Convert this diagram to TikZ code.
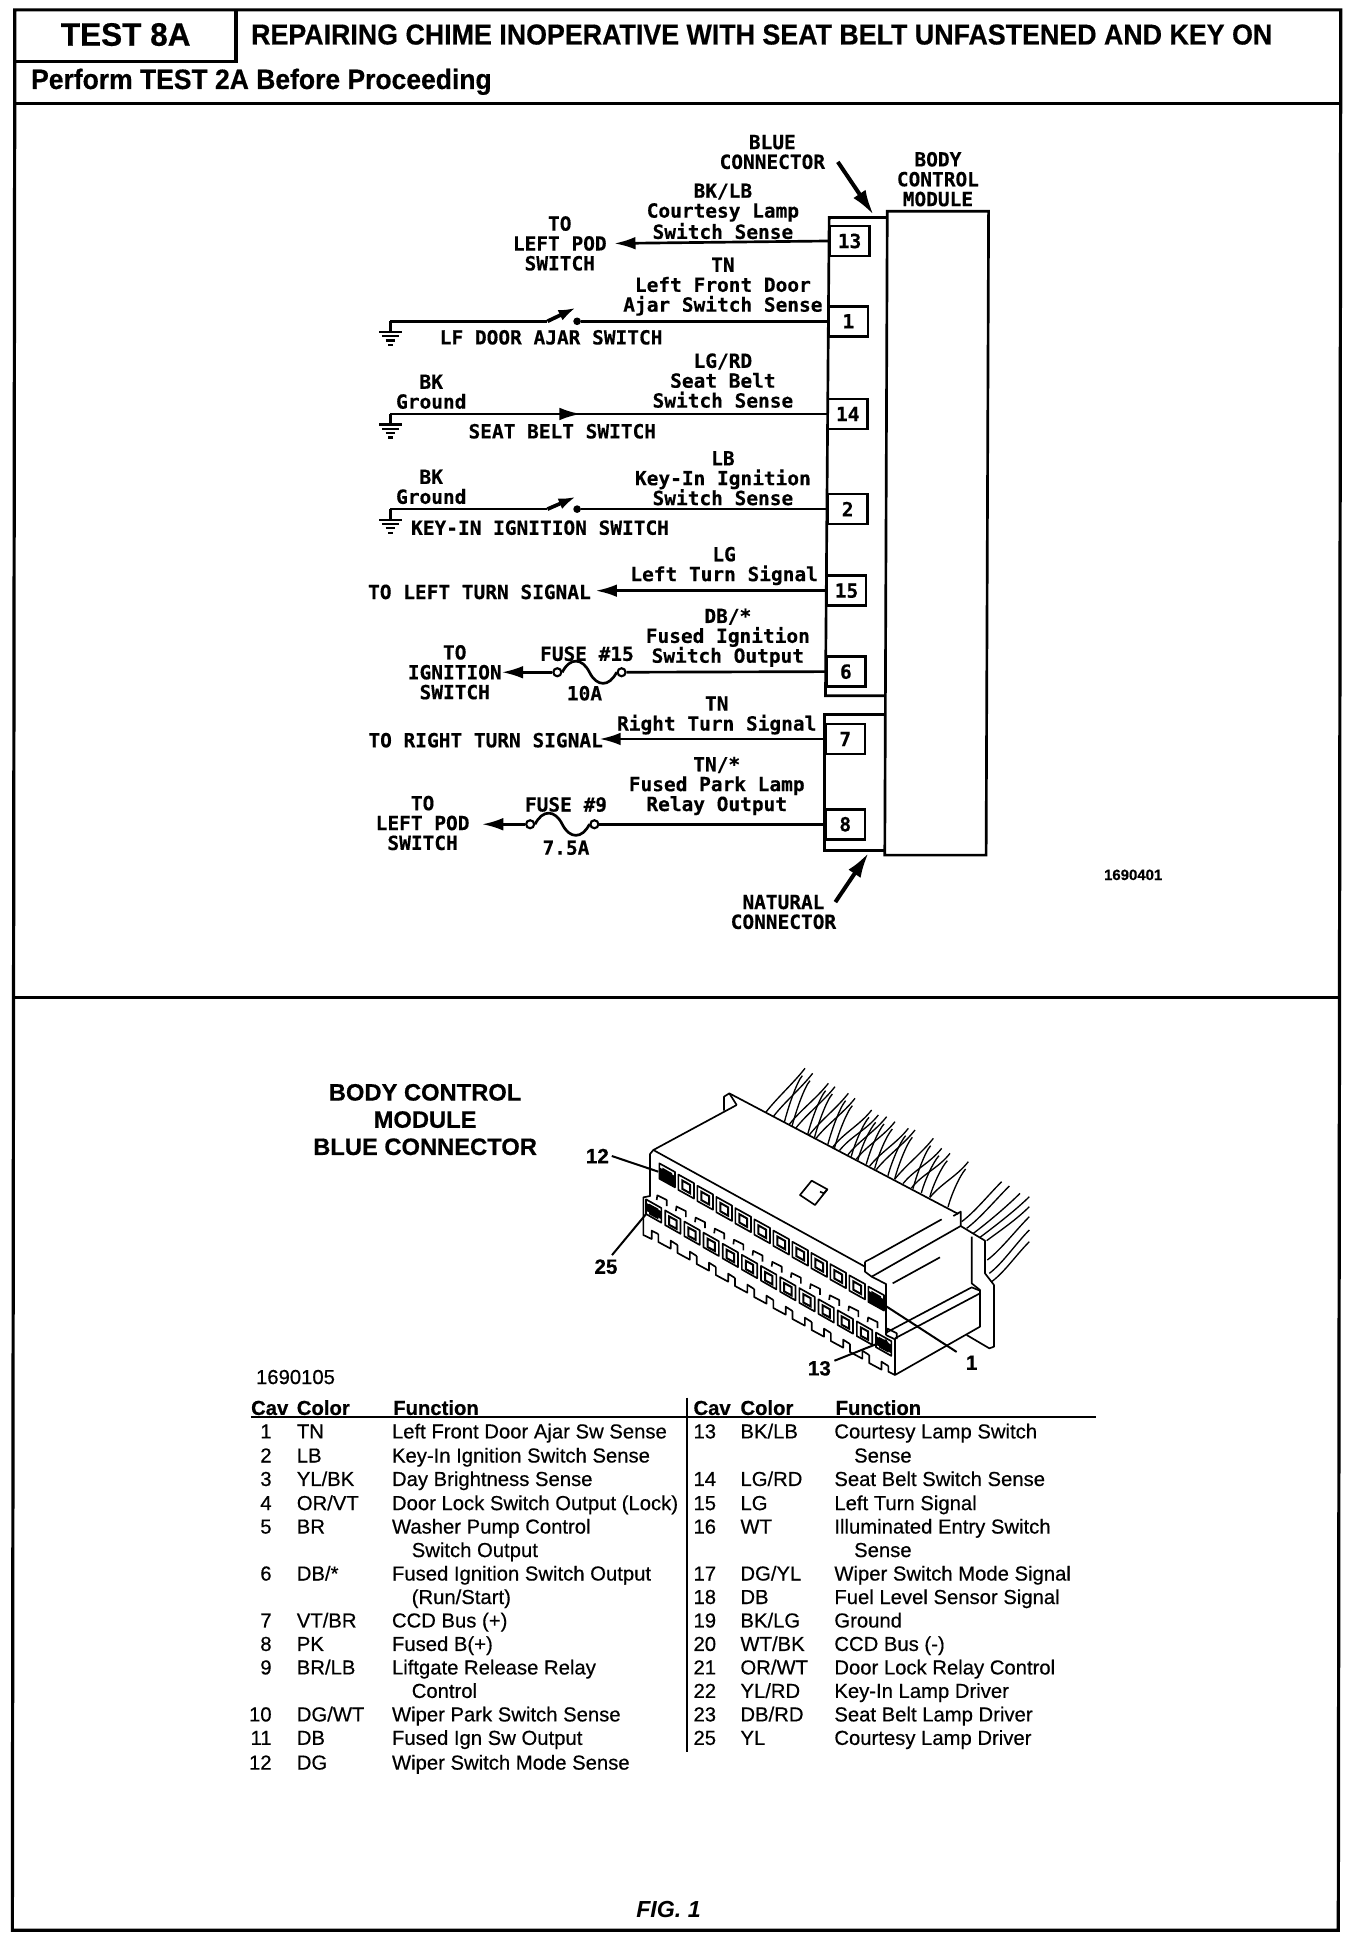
\documentclass[tikz,border=0pt]{standalone}
\usepackage{fontspec}
\usetikzlibrary{arrows.meta}
\setmainfont{Liberation Sans}
\newfontfamily\cadf[UprightFont=* Bold,FakeBold=0.35]{DejaVu Sans Mono}
\newfontfamily\tblf[FakeBold=0.45]{Liberation Sans}
\newfontfamily\hdf[UprightFont=* Bold,FakeBold=0.5]{Liberation Sans}
\tikzset{
  wire/.style={line width=2pt,black},
  frameline/.style={line width=2.4pt,black},
  tipped/.style={wire,-{Latex[length=16pt,width=9.5pt]}},
  bigarrow/.style={line width=3pt,black,-{Latex[length=19pt,width=11pt]}},
  swarrow/.style={line width=2.8pt,black,-{Latex[length=13pt,width=8.5pt]}},
  cad/.style={font=\cadf\fontsize{14.6}{14.9}\selectfont,inner sep=0pt,align=center,text=black},
  pinbox/.style={draw,line width=2pt,minimum width=29.5pt,minimum height=22.5pt,inner sep=0pt,font=\cadf\fontsize{14.6}{15}\selectfont},
  fusedot/.style={circle,draw,line width=1.6pt,fill=white,minimum size=6pt,inner sep=0pt},
  tb/.style={font=\tblf\fontsize{15.2}{16}\selectfont,inner sep=0pt,anchor=base west},
  tbr/.style={font=\tblf\fontsize{15.2}{16}\selectfont,inner sep=0pt,anchor=base east},
  th/.style={font=\hdf\fontsize{15.2}{16}\selectfont,inner sep=0pt,anchor=base west},
  head/.style={inner sep=0pt,anchor=base west},
  gnd/.pic={
    \draw[wire] (0,0)--(0,8);
    \draw[line width=1.6pt] (-9,8.5)--(9,8.5);
    \draw[line width=1.6pt] (-6.5,12)--(6.5,12);
    \draw[line width=1.6pt] (-4,15.5)--(4,15.5);
    \draw[line width=1.6pt] (-2,19)--(2,19);
  },
  fusecurve/.pic={
    \draw[line width=2pt] (-22,0) .. controls (-16,-12) and (-6,-12) .. (0,0) .. controls (6,12) and (16,12) .. (22,0);
  },
  cn/.style={line width=1.25pt,black,line join=round},
  cnt/.style={line width=1pt,black},
  cnlab/.style={font=\hdf\fontsize{15.5}{16}\selectfont,inner sep=0pt}
}
\newcommand\lrow[4]{%
  \node[tbr] (lc#2) at (220,#1+6) {#2};
  \node[tb] (lk#2) at (240,#1+6) {#3};
  \node[tb] (lf#2) at (317,#1+6) {#4};}
\newcommand\rrow[4]{%
  \node[tb] (rc#2) at (561,#1+6) {#2};
  \node[tb] (rk#2) at (599,#1+6) {#3};
  \node[tb] (rf#2) at (675,#1+6) {#4};}
\begin{document}
\begin{tikzpicture}[x=0.9268pt,y=-0.9268pt]
\fill[white] (0,0) rectangle (1100.56,1568.3);
% frame
\coordinate (tl) at (12,8); \coordinate (tr) at (1085,8);
\coordinate (bl) at (10,1562); \coordinate (br) at (1083,1562);
\draw[frameline] (tl)--(tr)--(br)--(bl)--cycle;
\coordinate (h1a) at (191,8); \coordinate (h1b) at (191,50); \coordinate (h1c) at (12,50);
\draw[frameline] (h1a)--(h1b)--(h1c);
\coordinate (h2a) at (12,84); \coordinate (h2b) at (1085,84);
\draw[frameline] (h2a)--(h2b);
\coordinate (h3a) at (11,807); \coordinate (h3b) at (1084,807);
\draw[frameline] (h3a)--(h3b);
\node[head,font=\hdf\fontsize{23.2}{24}\selectfont] (t8) at (49,37) {\scalebox{1.02}[1.05]{TEST 8A}};
\node[head,font=\hdf\fontsize{20.6}{24}\selectfont] (ttl) at (203,36) {\scalebox{0.976}[1.05]{REPAIRING CHIME INOPERATIVE WITH SEAT BELT UNFASTENED AND KEY ON}};
\node[head,font=\hdf\fontsize{20}{24}\selectfont] (pf) at (25,72) {\scalebox{0.993}[1.05]{Perform TEST 2A Before Proceeding}};
% module
\coordinate (m1) at (718,171); \coordinate (m2) at (800,171); \coordinate (m3) at (798,692); \coordinate (m4) at (716,692);
\draw[wire] (m1)--(m2)--(m3)--(m4)--cycle;
\coordinate (b1) at (718,176); \coordinate (b2) at (671,176); \coordinate (b3) at (668,563); \coordinate (b4) at (716,563);
\draw[wire] (b1)--(b2)--(b3)--(b4);
\coordinate (n1) at (716,578); \coordinate (n2) at (667,578); \coordinate (n3) at (667,688); \coordinate (n4) at (716,688);
\draw[wire] (n1)--(n2)--(n3)--(n4);
\node[cad] (bcm) at (759,145) {BODY\\CONTROL\\MODULE};
\node[cad] (blue) at (625,123) {BLUE\\CONNECTOR};
\coordinate (ba) at (678,131); \coordinate (bb) at (707,174);
\draw[bigarrow] (ba)--(bb);
\node[cad] (nat) at (634,738) {NATURAL\\CONNECTOR};
\coordinate (na) at (676,730); \coordinate (nb) at (703,690);
\draw[bigarrow] (na)--(nb);
\node[font=\hdf\fontsize{11.2}{12}\selectfont,inner sep=0pt] (code1) at (917,708) {1690401};
% pins
\node[pinbox] (p13) at (687.5,195) {13};
\node[pinbox] (p1) at (686.5,260) {1};
\node[pinbox] (p14) at (686,335) {14};
\node[pinbox] (p2) at (686,412) {2};
\node[pinbox] (p15) at (685,478) {15};
\node[pinbox] (p6) at (684.5,543.5) {6};
\node[pinbox] (p7) at (684,598) {7};
\node[pinbox] (p8) at (684,667) {8};
% pin 13
\node[cad] (l13) at (585,171) {BK/LB\\Courtesy Lamp\\Switch Sense};
\node[cad] (d13) at (453,197) {TO\\LEFT POD\\SWITCH};
\coordinate (t13) at (497,197);
\draw[tipped] (p13.west)--(t13);
% pin 1
\node[cad] (l1) at (585,232) {TN\\Left Front Door\\Ajar Switch Sense};
\node[cad] (s1) at (446,273) {LF DOOR AJAR SWITCH};
\node[fusedot,fill=black,minimum size=4pt] (sd1) at (467,260) {};
\coordinate (g1) at (316,260); \coordinate (sw1) at (443,260); \coordinate (st1) at (466,249);
\draw[wire] (p1.west)--(sd1);
\draw[wire] (g1)--(sw1);
\draw[swarrow] (sw1)--(st1);
\pic at (g1) {gnd};
% pin 14
\node[cad] (l14) at (585,308) {LG/RD\\Seat Belt\\Switch Sense};
\node[cad] (k14) at (349,317) {BK\\Ground};
\node[cad] (s14) at (455,349) {SEAT BELT SWITCH};
\coordinate (g14) at (316,335); \coordinate (a14) at (470,335);
\draw[wire] (p14.west)--(g14);
\draw[tipped] (g14)--(a14);
\pic at (g14) {gnd};
% pin 2
\node[cad] (l2) at (585,387) {LB\\Key-In Ignition\\Switch Sense};
\node[cad] (k2) at (349,394) {BK\\Ground};
\node[cad] (s2) at (437,427) {KEY-IN IGNITION SWITCH};
\node[fusedot,fill=black,minimum size=4pt] (sd2) at (467,412) {};
\coordinate (g2) at (316,412); \coordinate (sw2) at (443,412); \coordinate (st2) at (466,402);
\draw[wire] (p2.west)--(sd2);
\draw[wire] (g2)--(sw2);
\draw[swarrow] (sw2)--(st2);
\pic at (g2) {gnd};
% pin 15
\node[cad] (l15) at (586,458) {LG\\Left Turn Signal};
\node[cad] (d15) at (388,479) {TO LEFT TURN SIGNAL};
\coordinate (t15) at (482,478);
\draw[tipped] (p15.west)--(t15);
% pin 6
\node[cad] (l6) at (589,516) {DB/*\\Fused Ignition\\Switch Output};
\node[cad] (d6) at (368,544) {TO\\IGNITION\\SWITCH};
\node[cad] (f15) at (475,529) {FUSE \#15};
\node[cad] (a15) at (473,561) {10A};
\node[fusedot] (fr6) at (503,544) {};
\node[fusedot] (fl6) at (451,544) {};
\coordinate (t6) at (406,544);
\draw[wire] (p6.west)--(fr6);
\draw[tipped] (fl6)--(t6);
\pic at (477,544) {fusecurve};
% pin 7
\node[cad] (l7) at (580,579) {TN\\Right Turn Signal};
\node[cad] (d7) at (393,599) {TO RIGHT TURN SIGNAL};
\coordinate (t7) at (485,598);
\draw[tipped] (p7.west)--(t7);
% pin 8
\node[cad] (l8) at (580,636) {TN/*\\Fused Park Lamp\\Relay Output};
\node[cad] (d8) at (342,666) {TO\\LEFT POD\\SWITCH};
\node[cad] (f9) at (458,651) {FUSE \#9};
\node[cad] (a9) at (458,686) {7.5A};
\node[fusedot] (fr8) at (481,667) {};
\node[fusedot] (fl8) at (429,667) {};
\coordinate (t8) at (390,667);
\draw[wire] (p8.west)--(fr8);
\draw[tipped] (fl8)--(t8);
\pic at (455,667) {fusecurve};
% lower title
\node[font=\hdf\fontsize{17.8}{20.4}\selectfont,align=center,inner sep=0pt] (bt) at (344,906) {BODY CONTROL\\MODULE\\BLUE CONNECTOR};
% connector drawing (coordinates of a 3x crop)
\begin{scope}[x=0.25pt,y=-0.25pt,shift={(1710,3180)}]
% wires
\foreach \tx/\ty in {705/25,728/40,775/70,795/80,835/100,855/115,905/150,925/165,950/170,975/185,1015/205,1035/210,1090/235,1115/265,1140/280,1195/305}{
  \pgfmathsetmacro\ba{\tx-118}\pgfmathsetmacro\bb{\tx-62}
  \pgfmathsetmacro\ya{100+(\ba-478)*0.527}\pgfmathsetmacro\yb{100+(\bb-478)*0.527}
  \draw[cnt] (\ba,\ya) .. controls (\ba+35,\ya-45) and (\tx-35,\ty+45) .. (\tx,\ty);
  \draw[cnt] (\bb,\yb) .. controls (\bb+10,\yb-40) and (\tx-25,\ty+40) .. (\tx-8,\ty+22);
}
\foreach \ba/\ya/\tx/\ty in {1175/485/1295/365,1190/505/1318/378,1210/520/1350/400,1230/532/1378/410,1250/542/1378/440,1252/600/1378/470,1258/640/1378/510,1265/665/1378/545}{
  \draw[cnt] (\ba,\ya) .. controls (\ba+40,\ya-30) and (\tx-40,\ty+40) .. (\tx,\ty);
}
% body outline
\fill[white] (245,272)--(478,100)--(1170,460)--(1172,500)--(905,650)--(250,272)--cycle;
\draw[cn] (240,410)--(240,282)--(250,270)--(500,135);
\draw[cn] (462,152)--(462,110)--(478,100)--(1165,462);
\draw[cn] (478,100)--(500,135);
\draw[cn] (250,270)--(885,620);
\draw[cn] (885,605)--(885,635)--(905,650)--(948,672)--(948,825);
\draw[cn] (885,605)--(905,595)--(1115,478);
\draw[cn] (905,650)--(1172,498)--(1172,455)--(1150,468);
\draw[cn] (968,670)--(1110,592);
\draw[cn] (1172,498)--(1245,542)--(1245,640)--(1272,675)--(1272,860)--(1258,865)--(1190,825);
\draw[cn] (1205,530)--(1205,670)--(1230,690)--(1230,800)--(975,945);
\draw[cn] (948,818)--(1205,682)--(1230,692);
\draw[cn] (975,835)--(1230,700);
\draw[cn] (948,825)--(975,838)--(975,945);
% centre latch
\draw[cn] (690,405)--(725,362)--(772,388)--(735,435)--cycle;
\draw[cn] (772,388)--(762,400)--(750,395);
% upper windows
\foreach \i in {0,...,11}{
  \pgfmathsetmacro\xx{268+57*\i}\pgfmathsetmacro\yy{310+33.6*\i}
  \draw[cn] (\xx,\yy)--(\xx+47,\yy+26)--(\xx+47,\yy+72)--(\xx,\yy+46)--cycle;
  \draw[line width=1.5pt] (\xx+12,\yy+18)--(\xx+35,\yy+31)--(\xx+35,\yy+56)--(\xx+12,\yy+43)--cycle;
}
\fill[black] (268,322)--(315,348)--(315,382)--(268,356)--cycle;
\fill[black] (895,692)--(942,718)--(942,752)--(895,726)--cycle;
% lower row with tabs above
\foreach \i in {0,...,12}{
  \pgfmathsetmacro\xx{228+57.5*\i}\pgfmathsetmacro\yy{418+33.3*\i}
  \draw[cn] (\xx+32,\yy+2)--(\xx+34,\yy-12)--(\xx+62,\yy+2)--(\xx+62,\yy+20);
  \draw[cn] (\xx,\yy)--(\xx+46,\yy+26)--(\xx+46,\yy+70)--(\xx,\yy+44)--cycle;
  \draw[line width=1.5pt] (\xx+12,\yy+18)--(\xx+34,\yy+30)--(\xx+34,\yy+55)--(\xx+12,\yy+43)--cycle;
}
\fill[black] (228,428)--(274,454)--(274,478)--(228,452)--cycle;
\fill[black] (918,828)--(964,854)--(964,880)--(918,854)--cycle;
% comb
\draw[cn] (240,408)--(220,412)--(220,525)--(245,537)--(245,512)--(265,522);
\foreach \i in {0,...,11}{
  \pgfmathsetmacro\xx{265+57.5*\i}\pgfmathsetmacro\yy{522+33*\i}
  \draw[cn] (\xx,\yy)--(\xx,\yy+24)--(\xx+37,\yy+44)--(\xx+37,\yy+20)--(\xx+57.5,\yy+33);
}
\draw[cn] (955,918)--(955,935)--(975,945);
% labels and leaders
\node[cnlab] (c12) at (82,288) {12};
\node[cnlab] (c25) at (108,620) {25};
\node[cnlab] (c13) at (748,925) {13};
\node[cnlab] (c1) at (1205,908) {1};
\coordinate (e12) at (265,335); \coordinate (e25) at (230,460); \coordinate (e13) at (950,840); \coordinate (e1) at (935,730);
\draw[line width=1.5pt] (c12.east)++(8,0)--(e12);
\draw[line width=1.5pt] (c25.north)++(18,-12)--(e25);
\draw[line width=1.5pt] (c13.north east)++(10,0)--(e13);
\draw[line width=1.5pt] (c1.north)++(-45,-10)--(e1);
\end{scope}
% table
\node[tb] (code2) at (207,1120) {1690105};
\node[th] (hc1) at (203,1145) {Cav};
\node[th] (hk1) at (240,1145) {Color};
\node[th] (hf1) at (318,1145) {Function};
\node[th] (hc2) at (561,1145) {Cav};
\node[th] (hk2) at (599,1145) {Color};
\node[th] (hf2) at (676,1145) {Function};
\coordinate (ra) at (203,1147); \coordinate (rb) at (887,1147);
\draw[line width=1.6pt] (ra)--(rb);
\coordinate (va) at (556,1131); \coordinate (vb) at (556,1418);
\draw[line width=1.6pt] (va)--(vb);
\lrow{1158}{1}{TN}{Left Front Door Ajar Sw Sense}
\lrow{1177.5}{2}{LB}{Key-In Ignition Switch Sense}
\lrow{1196.5}{3}{YL/BK}{Day Brightness Sense}
\lrow{1216}{4}{OR/VT}{Door Lock Switch Output (Lock)}
\lrow{1235}{5}{BR}{Washer Pump Control}
\node[tb] (lx5) at (333,1254+6) {Switch Output};
\lrow{1273}{6}{DB/*}{Fused Ignition Switch Output}
\node[tb] (lx6) at (333,1292+6) {(Run/Start)};
\lrow{1311}{7}{VT/BR}{CCD Bus (+)}
\lrow{1330}{8}{PK}{Fused B(+)}
\lrow{1349}{9}{BR/LB}{Liftgate Release Relay}
\node[tb] (lx9) at (333,1368+6) {Control};
\lrow{1387}{10}{DG/WT}{Wiper Park Switch Sense}
\lrow{1406}{11}{DB}{Fused Ign Sw Output}
\lrow{1426}{12}{DG}{Wiper Switch Mode Sense}
\rrow{1158}{13}{BK/LB}{Courtesy Lamp Switch}
\node[tb] (rx13) at (691,1177.5+6) {Sense};
\rrow{1196.5}{14}{LG/RD}{Seat Belt Switch Sense}
\rrow{1216}{15}{LG}{Left Turn Signal}
\rrow{1235}{16}{WT}{Illuminated Entry Switch}
\node[tb] (rx16) at (691,1254+6) {Sense};
\rrow{1273}{17}{DG/YL}{Wiper Switch Mode Signal}
\rrow{1292}{18}{DB}{Fuel Level Sensor Signal}
\rrow{1311}{19}{BK/LG}{Ground}
\rrow{1330}{20}{WT/BK}{CCD Bus (-)}
\rrow{1349}{21}{OR/WT}{Door Lock Relay Control}
\rrow{1368}{22}{YL/RD}{Key-In Lamp Driver}
\rrow{1387}{23}{DB/RD}{Seat Belt Lamp Driver}
\rrow{1406}{25}{YL}{Courtesy Lamp Driver}
\node[font=\bfseries\itshape\fontsize{17.4}{18}\selectfont,inner sep=0pt] (fig) at (541,1545) {FIG. 1};
\end{tikzpicture}
\end{document}
